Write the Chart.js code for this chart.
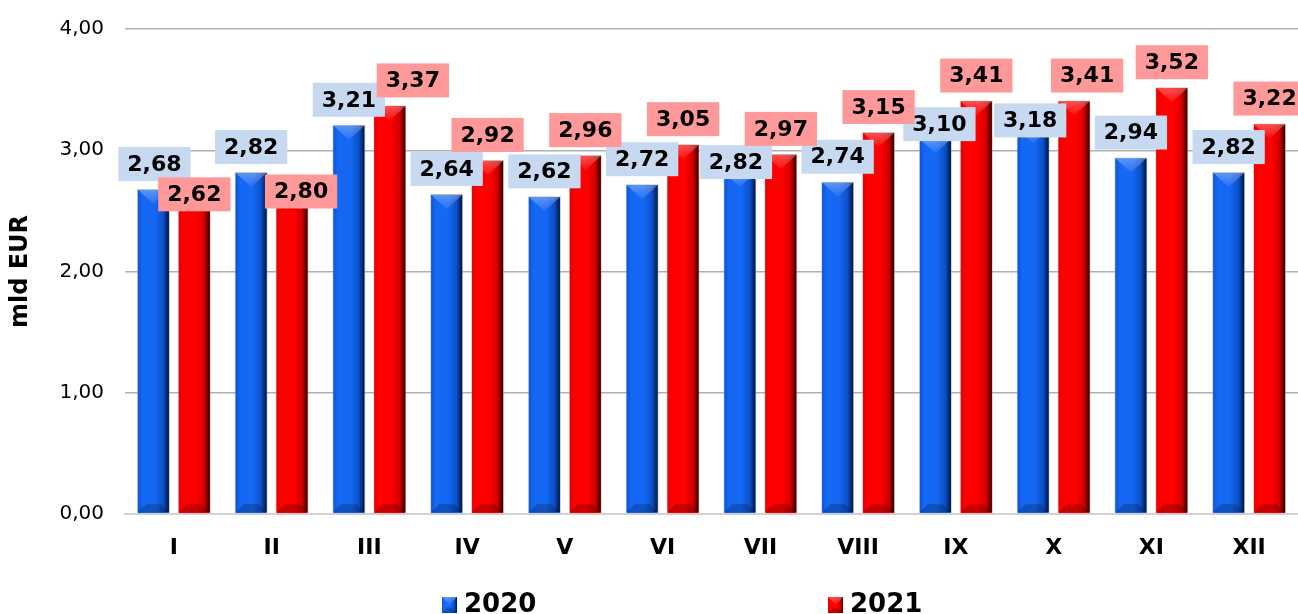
<!DOCTYPE html>
<html>
<head>
<meta charset="utf-8">
<script src="https://cdn.jsdelivr.net/npm/chart.js@4.4.0/dist/chart.umd.min.js"></script>
<style>
html,body{margin:0;padding:0;background:#fff;}
</style>
</head>
<body>
<canvas id="rel1" width="1298" height="614"></canvas>
<script>
var months = ['I','II','III','IV','V','VI','VII','VIII','IX','X','XI','XII'];
var values_2020 = [2.68,2.82,3.21,2.64,2.62,2.72,2.82,2.74,3.10,3.18,2.94,2.82];
var values_2021 = [2.62,2.80,3.37,2.92,2.96,3.05,2.97,3.15,3.41,3.41,3.52,3.22];
var y_ticks = [0,1,2,3,4];

// where excel moved value tags so they would not collide (px)
var shift_2020 = [0,0,0,0,0,0,15,0,11,17,0,0];
var shift_2021 = [23,42,0,0,0,0,0,0,0,0,0,0];
var slide_2020 = [1,0,0,0,0,0,-4,0,4,-3,0,0];
var slide_2021 = [0,9,23,0,0,0,0,0,0,13,0,0];

var FONT = 'DejaVu Sans';

function fmt(v){
	return Number(v).toFixed(2).replace('.', ',');
}

var blue = {edge:'#0b55dc', main:'#1468f4', mid:'#0c4fc8', dark:'#00153f', tag:'#c6d9f0'};
var red = {edge:'#e80000', main:'#ff0000', mid:'#d40000', dark:'#300000', tag:'#ff9999'};

function paintBar(ctx, l, t, r, b, pal){
	var w = r - l, h = b - t;
	if (h <= 0) return;
	var g = ctx.createLinearGradient(l, 0, r, 0);
	g.addColorStop(0, pal.edge);
	g.addColorStop(0.15, pal.main);
	g.addColorStop(0.55, pal.main);
	g.addColorStop(0.82, pal.mid);
	g.addColorStop(1, pal.dark);
	ctx.fillStyle = g;
	ctx.fillRect(l, t, w, h);
	// top bevel
	var d = Math.min(14, h / 2);
	var tg = ctx.createLinearGradient(0, t, 0, t + d);
	tg.addColorStop(0, 'rgba(255,255,255,0.3)');
	tg.addColorStop(1, 'rgba(255,255,255,0.06)');
	ctx.fillStyle = tg;
	ctx.beginPath();
	ctx.moveTo(l, t);
	ctx.lineTo(r, t);
	ctx.lineTo(l + w / 2, t + d);
	ctx.closePath();
	ctx.fill();
	// bottom bevel
	var e = Math.min(8, h / 3);
	ctx.fillStyle = 'rgba(0,0,0,0.22)';
	ctx.beginPath();
	ctx.moveTo(l, b);
	ctx.lineTo(r, b);
	ctx.lineTo(r - e, b - e);
	ctx.lineTo(l + e, b - e);
	ctx.closePath();
	ctx.fill();
}

var barLook = {
	id:'barLook',
	afterDatasetsDraw: function(chart){
		var ctx = chart.ctx;
		ctx.save();
		chart.data.datasets.forEach(function(ds, di){
			var meta = chart.getDatasetMeta(di);
			meta.data.forEach(function(bar){
				paintBar(ctx, bar.x - bar.width / 2 + 1, bar.y + 1, bar.x + bar.width / 2 - 1, bar.base - 1, ds.palette);
			});
		});
		// value tags
		ctx.font = 'bold 22px "' + FONT + '"';
		ctx.textAlign = 'center';
		ctx.textBaseline = 'middle';
		chart.data.datasets.forEach(function(ds, di){
			var meta = chart.getDatasetMeta(di);
			meta.data.forEach(function(bar, i){
				var txt = fmt(ds.data[i]);
				var tw = ctx.measureText(txt).width + 18;
				var th = 34;
				var cx = bar.x + ds.slide[i];
				var bottom = bar.y - 8 + ds.shift[i];
				ctx.fillStyle = ds.palette.tag;
				ctx.fillRect(cx - tw / 2, bottom - th, tw, th);
				ctx.fillStyle = '#000';
				ctx.fillText(txt, cx, bottom - th / 2 + 1);
			});
		});
		ctx.restore();
	}
};

var legendRow = {
	id:'legendRow',
	afterDraw: function(chart){
		var ctx = chart.ctx;
		var starts = [442, 828];
		ctx.save();
		ctx.font = 'bold 26px "' + FONT + '"';
		ctx.textAlign = 'left';
		ctx.textBaseline = 'alphabetic';
		chart.data.datasets.forEach(function(ds, di){
			var x = starts[di];
			paintBar(ctx, x, 597, x + 15, 613, ds.palette);
			ctx.fillStyle = '#000';
			ctx.fillText(ds.label, x + 22, 612);
		});
		ctx.restore();
	}
};

var rel1 = new Chart(document.getElementById('rel1'), {
	type:'bar',
	data:{
		labels:months,
		datasets:[{
			label:'2020',
			data:values_2020,
			backgroundColor:blue.main,
			borderColor:'rgba(150,150,150,0.55)',
			borderWidth:1,
			palette:blue,
			shift:shift_2020,
			slide:slide_2020
		},
		{
			label:'2021',
			data:values_2021,
			backgroundColor:red.main,
			borderColor:'rgba(150,150,150,0.55)',
			borderWidth:1,
			palette:red,
			shift:shift_2021,
			slide:slide_2021
		}]
	},
	options:{
		responsive:false,
		animation:false,
		events:[],
		categoryPercentage:0.837,
		barPercentage:0.805,
		layout:{padding:{top:29, right:-3, bottom:50, left:0}},
		plugins:{legend:{display:false}, tooltip:{enabled:false}},
		scales:{
			x:{
				grid:{display:false},
				border:{color:'#d2d2d2', width:2},
				ticks:{color:'#000', padding:13, font:{family:FONT, size:22, weight:'bold'}},
				afterFit:function(s){ s.height = 50; }
			},
			y:{
				min:0,
				max:4,
				afterBuildTicks:function(s){ s.ticks = y_ticks.map(function(v){ return {value:v}; }); },
				ticks:{color:'#000', padding:21, font:{family:FONT, size:20}, callback:function(v){ return fmt(v); }},
				grid:{drawTicks:false, lineWidth:1.5, color:function(c){ return c.tick && c.tick.value === 0 ? 'rgba(0,0,0,0)' : '#b0b0b0'; }},
				border:{display:false},
				title:{display:true, text:'mld EUR', color:'#000', padding:{top:6, bottom:0}, font:{family:FONT, size:24, weight:'bold'}},
				afterFit:function(s){ s.width = 125; s.paddingTop = 0; s.paddingBottom = 0; }
			}
		}
	},
	plugins:[barLook, legendRow]
});
</script>
</body>
</html>
